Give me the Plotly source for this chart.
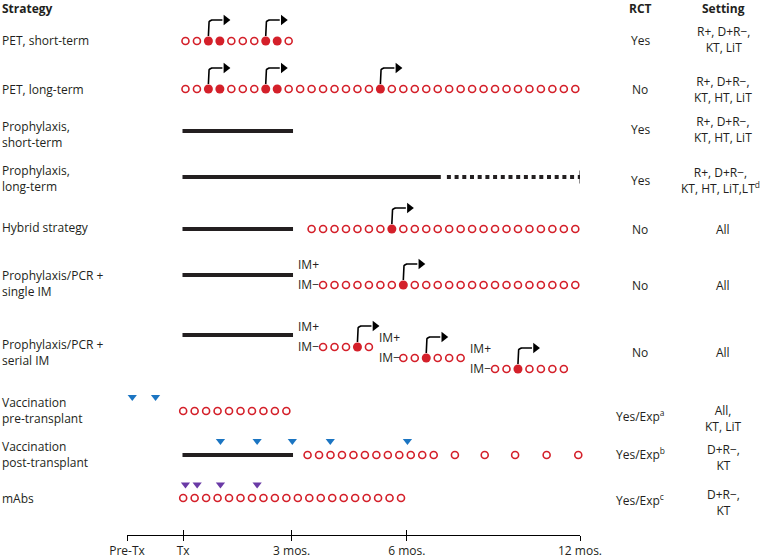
import math
import plotly.graph_objects as go

# ---------------- data ----------------
tick_labels = ["Pre-Tx", "Tx", "3 mos.", "6 mos.", "12 mos."]
tick_slots = [-5.1, -0.2, 9.26, 19.31, 34.41]  # monitoring-slot units

strategies = ["PET, short-term", "PET, long-term", "Prophylaxis,<br>short-term",
              "Prophylaxis,<br>long-term", "Hybrid strategy", "Prophylaxis/PCR +<br>single IM",
              "Prophylaxis/PCR +<br>serial IM", "Vaccination<br>pre-transplant",
              "Vaccination<br>post-transplant", "mAbs"]
rct = ["Yes", "No", "Yes", "Yes", "No", "No", "No",
       "Yes/Exp<sup>a</sup>", "Yes/Exp<sup>b</sup>", "Yes/Exp<sup>c</sup>"]
settings = ["R+, D+R\u2212,<br>KT, LiT", "R+, D+R\u2212,<br>KT, HT, LiT", "R+, D+R\u2212,<br>KT, HT, LiT",
            "R+, D+R\u2212,<br>KT, HT, LiT,LT<sup>d</sup>", "All", "All", "All",
            "All,<br>KT, LiT", "D+R\u2212,<br>KT", "D+R\u2212,<br>KT"]

# PCR monitoring visits (slot index), positive results, and treatment starts
pet_short_visits = [0, 1, 2, 3, 4, 5, 6, 7, 8, 9]
pet_short_pos = [2, 3, 7, 8]
pet_short_tx = [2, 7]
pet_long_visits = [0, 1, 2, 3, 4, 5, 6, 7, 8, 9, 10, 11, 12, 13, 14, 15, 16, 17, 18, 19,
                   20, 21, 22, 23, 24, 25, 26, 27, 28, 29, 30, 31, 32, 33, 34]
pet_long_pos = [2, 3, 7, 8, 17]
pet_long_tx = [2, 7, 17]
hybrid_visits = [11, 12, 13, 14, 15, 16, 17, 18, 19, 20, 21, 22, 23, 24, 25, 26, 27, 28,
                 29, 30, 31, 32, 33, 34]
hybrid_pos = [18]
single_visits = [12, 13, 14, 15, 16, 17, 18, 19, 20, 21, 22, 23, 24, 25, 26, 27, 28, 29,
                 30, 31, 32, 33, 34]
single_pos = [19]
serial_visits = [[12, 13, 14, 15, 16], [19, 20, 21, 22, 23, 24], [27, 28, 29, 30, 31, 32, 33]]
serial_pos = [15, 21, 29]
vacc_pre_doses = [-4.64, -2.61]
vacc_pre_visits = [-0.2, 0.8, 1.8, 2.8, 3.8, 4.8, 5.8, 6.8, 7.8, 8.8]
vacc_post_doses = [3.05, 6.25, 9.32, 12.63, 19.36]
vacc_post_visits = [10.65, 11.65, 12.65, 13.65, 14.65, 15.65, 16.65, 17.65, 18.65, 19.65,
                    20.65, 21.65, 23.5, 26.1, 28.75, 31.5, 34.26]
mabs_doses = [0.0, 1.02, 3.05, 6.25]
mabs_visits = [-0.2, 0.8, 1.8, 2.8, 3.8, 4.8, 5.8, 6.8, 7.8, 8.8, 9.8, 10.8, 11.8, 12.8,
               13.8, 14.8, 15.8, 16.8, 17.8, 18.8]
# prophylaxis periods (start, end) in slot units
proph_short = [-0.26, 9.38]
proph_long = [-0.26, 22.27]
proph_long_ext = [22.8, 34.41]

# ---------------- layout constants ----------------
W, H = 760, 556
ML, MR, MT, MB = 127, 180, 0, 21
S = (W - ML - MR) / (tick_slots[-1] - tick_slots[0])  # px per slot
RED = "#d4202a"
BLUE = "#1b75c2"
PURPLE = "#6a3aa6"
INK = "#231f20"
FONT = "Open Sans"
FS = 12

row_y = [41, 89, 131, 177, 229, 285, 347, 411, 455, 498]   # timeline centre (px from top)
label_y = [40, 89, 134, 178, 227, 283, 352, 410, 454, 498]
rct_y = [40, 89, 129, 180, 229, 285, 352, 416, 454, 500]
set_y = [39, 89, 129, 180, 229, 285, 352, 418, 457, 502]
set_x = [723, 723, 723, 720, 723, 723, 723, 723, 723, 723]

fig = go.Figure()


def paper_x(px):
    return (px - ML) / (W - ML - MR)


def circles(xs, y, pos=()):
    xo = [x for x in xs if x not in pos]
    xf = [x for x in xs if x in pos]
    fig.add_trace(go.Scatter(x=xo, y=[y] * len(xo), mode="markers", cliponaxis=False,
                             marker=dict(symbol="circle-open", size=7, color=RED,
                                         line=dict(width=1.6, color=RED)),
                             hoverinfo="skip", showlegend=False))
    if xf:
        fig.add_trace(go.Scatter(x=xf, y=[y] * len(xf), mode="markers", cliponaxis=False,
                                 marker=dict(symbol="circle", size=9, color=RED),
                                 hoverinfo="skip", showlegend=False))


def bar(seg, y, dash="solid", width=4):
    fig.add_trace(go.Scatter(x=seg, y=[y, y], mode="lines", cliponaxis=False,
                             line=dict(color=INK, width=width, dash=dash),
                             hoverinfo="skip", showlegend=False))


def arrow(x, y):
    r = 4.0
    top = y - 21
    xs = [x, x]
    ys = [y - 5, top + r]
    for k in range(1, 9):
        t = math.radians(90 * k / 8)
        xs.append(x + (r - r * math.cos(t)) / S)
        ys.append(top + r - r * math.sin(t))
    xs.append(x + 14 / S)
    ys.append(top)
    fig.add_trace(go.Scatter(x=xs, y=ys, mode="lines", cliponaxis=False,
                             line=dict(color="black", width=1.6),
                             hoverinfo="skip", showlegend=False))
    fig.add_trace(go.Scatter(x=[x + 17.5 / S], y=[top], mode="markers", cliponaxis=False,
                             marker=dict(symbol="triangle-right", size=9, color="black"),
                             hoverinfo="skip", showlegend=False))


def doses(xs, y, color):
    fig.add_trace(go.Scatter(x=xs, y=[y] * len(xs), mode="markers", cliponaxis=False,
                             marker=dict(symbol="triangle-down", size=8, color=color),
                             hoverinfo="skip", showlegend=False))


def im_labels(x0, y):
    for t, yy in (("IM+", y - 20), ("IM\u2212", y)):
        fig.add_annotation(x=x0 - 2.32, y=yy, xref="x", yref="y", text=t, showarrow=False,
                           xanchor="left", yanchor="middle",
                           font=dict(family=FONT, size=FS, color=INK))


# row 0: PET short
circles(pet_short_visits, row_y[0], pet_short_pos)
for p in pet_short_tx:
    arrow(p, row_y[0])
# row 1: PET long
circles(pet_long_visits, row_y[1], pet_long_pos)
for p in pet_long_tx:
    arrow(p, row_y[1])
# row 2: prophylaxis short
bar(proph_short, row_y[2])
# row 3: prophylaxis long
bar(proph_long, row_y[3])
bar(proph_long_ext, row_y[3], dash="4px,3.7px")
fig.add_trace(go.Scatter(x=[proph_long_ext[1]] * 2, y=[row_y[3] - 6.5, row_y[3] + 6.5],
                         mode="lines", cliponaxis=False, line=dict(color=INK, width=1),
                         hoverinfo="skip", showlegend=False))
# row 4: hybrid
bar(proph_short, row_y[4])
circles(hybrid_visits, row_y[4], hybrid_pos)
arrow(hybrid_pos[0], row_y[4])
# row 5: single IM
bar(proph_short, row_y[5] - 10)
circles(single_visits, row_y[5], single_pos)
arrow(single_pos[0], row_y[5])
im_labels(single_visits[0], row_y[5] - 1)
# row 6: serial IM
bar(proph_short, row_y[6] - 12)
for i, (seg, p) in enumerate(zip(serial_visits, serial_pos)):
    yy = row_y[6] + 11 * i
    circles(seg, yy, [p])
    arrow(p, yy)
    im_labels(seg[0], yy - 1)
# row 7: vaccination pre
doses(vacc_pre_doses, row_y[7] - 14, BLUE)
circles(vacc_pre_visits, row_y[7])
# row 8: vaccination post
bar(proph_short, row_y[8])
doses(vacc_post_doses, row_y[8] - 14, BLUE)
circles(vacc_post_visits, row_y[8])
# row 9: mAbs
doses(mabs_doses, row_y[9] - 13.5, PURPLE)
circles(mabs_visits, row_y[9])

# invisible trace for the overlaying tick axis
fig.add_trace(go.Scatter(x=[tick_slots[0]], y=[0], xaxis="x2", mode="markers",
                         marker=dict(opacity=0), hoverinfo="skip", showlegend=False))


def txt(x_px, y, s, anchor="center", bold=False):
    fig.add_annotation(x=paper_x(x_px), y=y, xref="paper", yref="y", text=s,
                       showarrow=False, xanchor=anchor, yanchor="middle", align=anchor,
                       font=dict(family=FONT, size=FS, color=INK,
                                 weight="bold" if bold else "normal"))


txt(0, 8, "Strategy", anchor="left", bold=True)
txt(640, 8, "RCT", bold=True)
txt(723, 8, "Setting", bold=True)
for i in range(len(strategies)):
    txt(0, label_y[i], strategies[i], anchor="left")
    txt(640, rct_y[i], rct[i])
    txt(set_x[i], set_y[i], settings[i])

axis_common = dict(range=[tick_slots[0], tick_slots[-1]], tickvals=tick_slots,
                   showgrid=False, zeroline=False, tickcolor="black", tickwidth=1, ticklen=5,
                   automargin=False)
fig.update_layout(
    width=W, height=H, margin=dict(l=ML, r=MR, t=MT, b=MB, autoexpand=False),
    paper_bgcolor="white", plot_bgcolor="white",
    xaxis=dict(**axis_common, ticktext=tick_labels, ticks="outside", showline=True,
               linecolor="black", linewidth=1,
               tickfont=dict(family=FONT, size=FS, color=INK)),
    xaxis2=dict(**axis_common, overlaying="x", anchor="y", side="bottom", ticks="inside",
                showticklabels=False, showline=False),
    yaxis=dict(range=[535, 0], visible=False, automargin=False),
)
fig.write_html("out.html", config={"displayModeBar": False},
               post_script="document.body.style.margin='0px';")
